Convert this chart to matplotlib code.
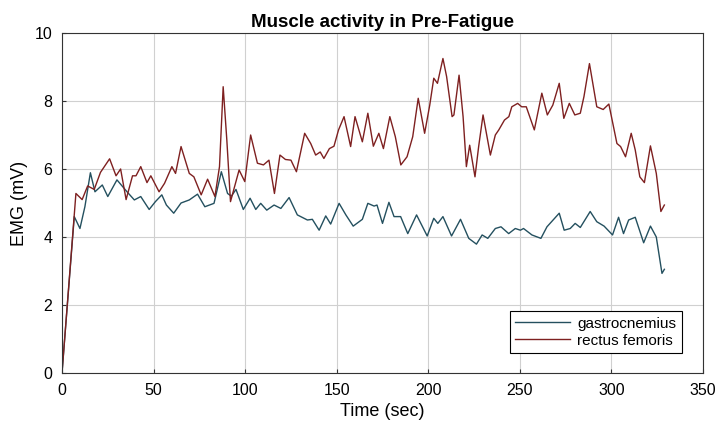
import matplotlib
matplotlib.use('Agg')
import matplotlib.pyplot as plt

# values
t_rf = [0, 7.6, 11, 14, 17.6, 21, 26, 29.5, 32, 35, 38.5, 40.4, 43, 46.4, 48.5, 53, 56, 60, 62,
        65, 69.5, 72, 76, 79.5, 83.5, 86, 88, 90, 92, 96.7, 99.8, 103, 106.7, 110, 113, 116,
        119, 122, 125, 128, 132.5, 135.8, 138.5, 141, 143, 146, 148.5, 151, 154, 157.6, 160,
        164, 167, 170, 173, 175.5, 179, 182, 185, 188.4, 191.5, 194.5, 198, 200.8, 203, 205,
        208, 210, 213, 214, 216.8, 219, 220.8, 222.6, 225.5, 227.5, 229.9, 233.9, 236.6,
        238.5, 241.6, 244, 245.6, 248.8, 251, 253.5, 257.9, 262, 265, 268, 271.5, 274, 277,
        280, 283, 285, 288, 292, 295.5, 298.6, 303, 305, 307.7, 310.8, 313, 315.5, 318,
        321.3, 324.5, 327, 328.9]
rectus_femoris = [0, 5.28, 5.1, 5.5, 5.4, 5.9, 6.3, 5.8, 6.0, 5.1, 5.8, 5.8, 6.07, 5.6, 5.8, 5.33,
                  5.58, 6.07, 5.87, 6.66, 5.87, 5.77, 5.24, 5.7, 5.19, 6.07, 8.42, 6.85, 5.04,
                  5.97, 5.63, 7.0, 6.17, 6.12, 6.26, 5.28, 6.41, 6.28, 6.26, 5.92, 7.05, 6.75,
                  6.41, 6.5, 6.31, 6.6, 6.67, 7.15, 7.54, 6.66, 7.54, 6.8, 7.64, 6.67, 7.05,
                  6.6, 7.54, 6.95, 6.12, 6.36, 6.95, 8.08, 7.05, 7.88, 8.67, 8.52, 9.25, 8.72,
                  7.54, 7.59, 8.76, 7.54, 6.07, 6.7, 5.77, 6.66, 7.59, 6.41, 7.0, 7.15, 7.44,
                  7.54, 7.83, 7.93, 7.83, 7.83, 7.15, 8.23, 7.59, 7.88, 8.52, 7.49, 7.93, 7.59,
                  7.64, 8.13, 9.1, 7.83, 7.75, 7.91, 6.75, 6.66, 6.36, 7.05, 6.56, 5.77, 5.6,
                  6.68, 5.87, 4.75, 4.94]

t_gc = [0, 6.7, 9.8, 12.5, 15.5, 18, 22, 25, 30, 35.5, 39.5, 43, 47.6, 51, 54.5, 57, 61, 65, 69.5,
        74, 78, 83, 87, 90.4, 92.5, 95, 99, 102.7, 105.8, 108.5, 111.8, 115.8, 119.5, 124,
        128.5, 134, 136.7, 140.4, 144, 146.7, 151.3, 155, 159, 164, 167, 170.4, 172, 175,
        178.5, 181.3, 184.9, 188.8, 193.6, 199.4, 203, 205.2, 208, 212.7, 217.6, 222.1, 226.3,
        229.4, 232.5, 236.6, 239.7, 243.9, 247.5, 250.3, 252, 256.6, 261.5, 264.8, 271.5,
        274.2, 277.5, 280.2, 283, 288.4, 292, 296, 300.6, 303.9, 306.6, 309.4, 313, 317.6,
        321.3, 324.5, 327.6, 328.9]
gastrocnemius = [0, 4.6, 4.25, 4.89, 5.89, 5.33, 5.53, 5.19, 5.68, 5.33, 5.09, 5.19, 4.81, 5.04,
                 5.24, 4.94, 4.7, 5.0, 5.09, 5.26, 4.89, 4.99, 5.92, 5.28, 5.2, 5.4, 4.81, 5.14,
                 4.81, 4.99, 4.79, 4.94, 4.84, 5.16, 4.65, 4.5, 4.52, 4.2, 4.62, 4.38, 4.99,
                 4.65, 4.32, 4.52, 4.99, 4.91, 4.94, 4.4, 5.02, 4.6, 4.6, 4.1, 4.65, 4.03, 4.55,
                 4.4, 4.6, 4.03, 4.52, 3.96, 3.79, 4.06, 3.96, 4.25, 4.3, 4.1, 4.25, 4.2, 4.25,
                 4.06, 3.96, 4.3, 4.7, 4.2, 4.25, 4.4, 4.28, 4.75, 4.45, 4.32, 4.06, 4.58, 4.1,
                 4.5, 4.58, 3.83, 4.32, 4.0, 2.93, 3.05]

plt.rcParams['font.family'] = ['Liberation Sans', 'DejaVu Sans']

fig = plt.figure(figsize=(7.2, 4.23), dpi=100)
ax = fig.add_axes([62 / 720, 1 - 373 / 423, 641 / 720, 340 / 423])

ax.plot(t_gc, gastrocnemius, color='#24505f', lw=1.0, label='gastrocnemius')
ax.plot(t_rf, rectus_femoris, color='#7e2020', lw=1.0, label='rectus femoris')

ax.set_xlim(0, 350)
ax.set_ylim(0, 10)
ax.set_xticks(range(0, 351, 50))
ax.set_yticks(range(0, 11, 2))
ax.grid(True, color='#d0d0d0', lw=0.8)
ax.tick_params(direction='in', labelsize=11.5, length=3, color='#333333')
ax.tick_params(axis='x', pad=7)
ax.tick_params(axis='y', pad=7)
for s in ax.spines.values():
    s.set_color('#333333')
    s.set_linewidth(0.8)

ax.set_title('Muscle activity in Pre-Fatigue', fontsize=13.5, fontweight='bold', pad=4)
ax.set_xlabel('Time (sec)', fontsize=13, labelpad=4)
ax.set_ylabel('EMG (mV)', fontsize=13, labelpad=5)

leg = ax.legend(loc='lower right', bbox_to_anchor=(0.967, 0.059), borderaxespad=0,
                fontsize=11, fancybox=False, framealpha=1, edgecolor='black',
                handlelength=3.6, handletextpad=0.5, borderpad=0.35, labelspacing=0.2)
leg.get_frame().set_linewidth(0.8)

fig.savefig('out.png', dpi=100)
